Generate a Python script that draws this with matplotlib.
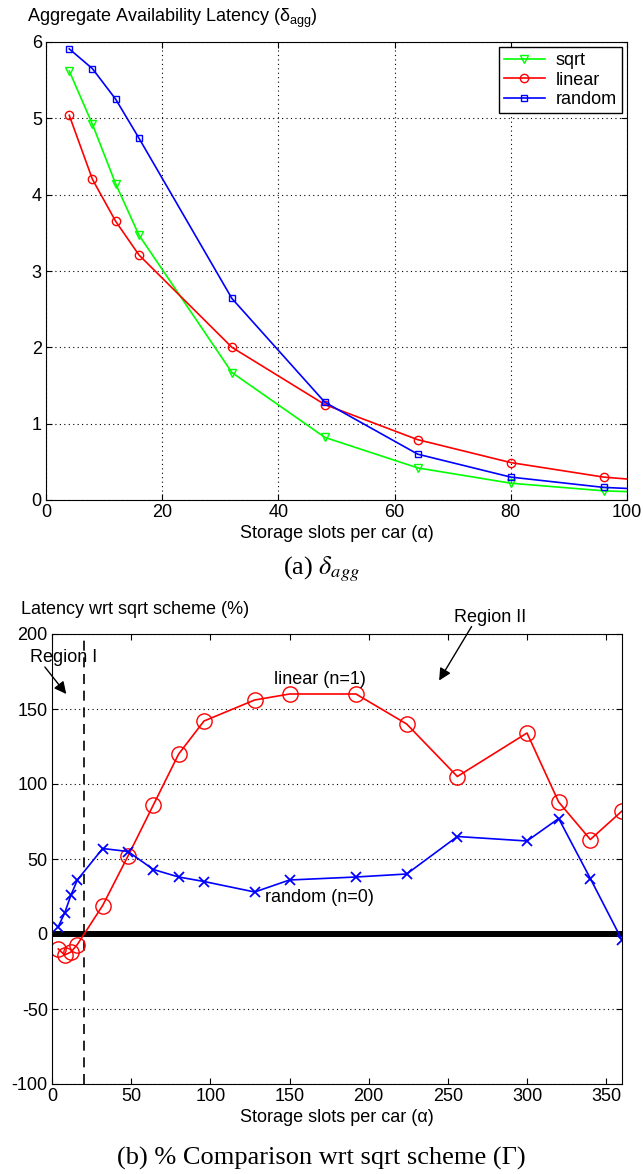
import numpy as np
import matplotlib
matplotlib.use('Agg')
import matplotlib.pyplot as plt

plt.rcParams['font.family'] = ['Liberation Sans', 'DejaVu Sans']
plt.rcParams['mathtext.fontset'] = 'custom'
plt.rcParams['mathtext.rm'] = 'Liberation Sans'
plt.rcParams['mathtext.it'] = 'Liberation Sans:italic'
plt.rcParams['font.size'] = 13
plt.rcParams['axes.unicode_minus'] = False

# (a) aggregate availability latency
slots_a = [4, 8, 12, 16, 32, 48, 64, 80, 96, 112]
sqrt_lat = [5.62, 4.92, 4.14, 3.47, 1.67, 0.82, 0.42, 0.22, 0.12, 0.08]
linear_lat = [5.04, 4.20, 3.65, 3.21, 2.00, 1.25, 0.79, 0.49, 0.30, 0.20]
random_lat = [5.91, 5.65, 5.25, 4.74, 2.64, 1.28, 0.60, 0.30, 0.165, 0.11]

# (b) % comparison wrt sqrt scheme
slots_lin = [4, 8, 12, 16, 32, 48, 64, 80, 96, 128, 150, 192, 224, 256, 300, 320, 340, 360]
linear_pct = [-10, -14, -12, -7, 19, 52, 86, 120, 142, 156, 160, 160, 140, 105, 134, 88, 63, 82]
slots_rnd = [4, 8, 12, 16, 32, 48, 64, 80, 96, 128, 150, 192, 224, 256, 300, 320, 340, 360]
random_pct = [5, 14, 26, 36, 57, 55, 43, 38, 35, 28, 36, 38, 40, 65, 62, 77, 37, -4]
region_split = 20

grid_kw = dict(color='k', linestyle=(0, (1, 3)), linewidth=0.8)

fig = plt.figure(figsize=(6.43, 11.74), dpi=100)

# ---- top plot
ax1 = fig.add_axes([46/643, 1-500/1174, 581/643, 458/1174])
ax1.plot(slots_a, sqrt_lat, color=(0, 1, 0), marker='v', ms=6, mfc='none', lw=1.2, label='sqrt')
ax1.plot(slots_a, linear_lat, color=(1, 0, 0), marker='o', ms=6, mfc='none', lw=1.2, label='linear')
ax1.plot(slots_a, random_lat, color=(0, 0, 1), marker='s', ms=5, mfc='none', lw=1.2, label='random')
ax1.set_xlim(0, 100)
ax1.set_ylim(0, 6)
ax1.set_xticks(range(0, 101, 20))
ax1.set_yticks(range(0, 7))
ax1.grid(True, **grid_kw)
ax1.tick_params(direction='in', top=True, right=True, length=4, pad=3)
ax1.set_xlabel('Storage slots per car (\u03b1)', labelpad=3)
leg = ax1.legend(loc='upper right', fancybox=False, edgecolor='k', framealpha=1,
                 borderaxespad=0.3, handlelength=2.3, borderpad=0.25, labelspacing=0.15,
                 handletextpad=0.6)
leg.get_frame().set_linewidth(1.0)
fig.text(27/643, 1-18/1174, 'Aggregate Availability Latency (\u03b4$_{\\mathrm{agg}}$)', va='center', ha='left')
fig.text(0.5, 1-569/1174, r'(a) $\delta_{agg}$', ha='center', va='center',
         family='Liberation Serif', fontsize=19, math_fontfamily='stix')

# ---- bottom plot
ax2 = fig.add_axes([52/643, 1-1084/1174, 570/643, 450/1174])
ax2.axhline(0, color='k', lw=4.3, zorder=1)
ax2.axvline(region_split, color='k', lw=1.2, linestyle=(0, (6, 4)), zorder=1)
ax2.plot(slots_lin, linear_pct, color=(1, 0, 0), marker='o', ms=11, mfc='none', lw=1.2, zorder=3)
ax2.plot(slots_rnd, random_pct, color=(0, 0, 1), marker='x', ms=7, mew=1.3, lw=1.2, zorder=3)
ax2.set_xlim(0, 360)
ax2.set_ylim(-100, 200)
ax2.set_xticks(range(0, 351, 50))
ax2.set_yticks(range(-100, 201, 50))
ax2.yaxis.grid(True, **grid_kw)
ax2.tick_params(direction='in', top=True, right=True, length=4, pad=3)
ax2.set_xlabel('Storage slots per car (\u03b1)', labelpad=3)
for sp in ax2.spines.values():
    sp.set_zorder(4)

arrow = dict(arrowstyle='-|>', color='k', lw=1.0, mutation_scale=18, shrinkA=0, shrinkB=0)
ax2.annotate('', xy=(9, 160), xytext=(-4.5, 178), arrowprops=arrow, annotation_clip=False)
ax2.text(-14, 184, 'Region I', ha='left', va='center', clip_on=False)
ax2.annotate('', xy=(244.5, 169), xytext=(265, 205), arrowprops=arrow, annotation_clip=False)
ax2.text(277, 211, 'Region II', ha='center', va='center', clip_on=False)
ax2.text(169, 170, 'linear (n=1)', ha='center', va='center')
ax2.text(169, 24, 'random (n=0)', ha='center', va='center')

fig.text(21/643, 1-609/1174, 'Latency wrt sqrt scheme (%)', va='center', ha='left')
fig.text(0.5, 1-1158/1174, '(b) % Comparison wrt sqrt scheme (\u0393)', ha='center', va='center',
         family='Liberation Serif', fontsize=19)

fig.savefig('out.png', dpi=100)
